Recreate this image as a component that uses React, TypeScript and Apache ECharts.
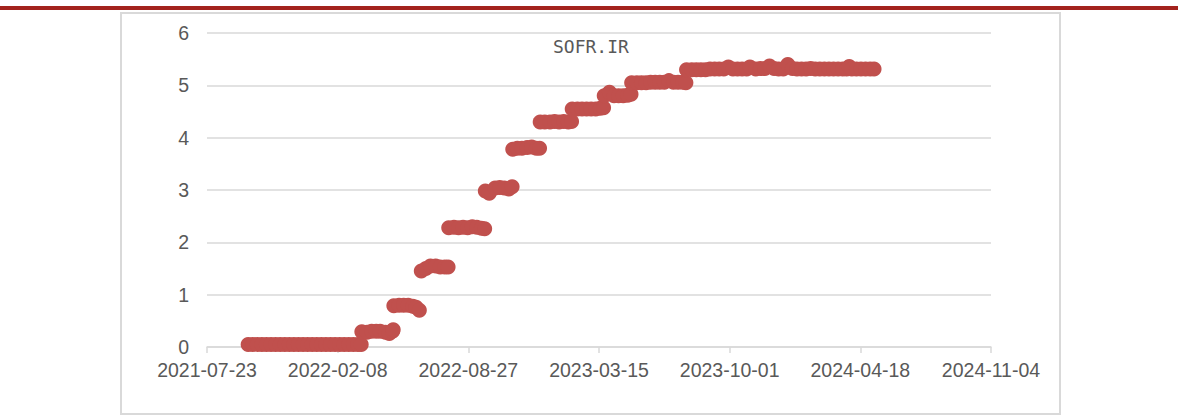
import React, { useEffect, useRef } from "react";
import * as echarts from "echarts";

const BASE_DATE = "2021-07-23";
const X_TICK_DAYS = 200;
const X_MAX_DAYS = 1200;
const Y_TICKS = [0, 1, 2, 3, 4, 5, 6];
const TITLE = "SOFR.IR";

const dates: string[] = [
  "2021-09-24", "2021-10-01", "2021-10-08", "2021-10-15", "2021-10-22", "2021-10-29",
  "2021-11-05", "2021-11-12", "2021-11-19", "2021-11-26", "2021-12-03", "2021-12-10",
  "2021-12-17", "2021-12-24", "2021-12-31", "2022-01-07", "2022-01-14", "2022-01-21",
  "2022-01-28", "2022-02-04", "2022-02-11", "2022-02-18", "2022-02-25", "2022-03-04",
  "2022-03-11", "2022-03-16",
  "2022-03-17", "2022-03-25", "2022-04-01", "2022-04-08", "2022-04-14", "2022-04-22",
  "2022-04-28", "2022-05-03", "2022-05-04",
  "2022-05-05", "2022-05-13", "2022-05-20", "2022-05-27", "2022-06-03", "2022-06-08",
  "2022-06-13",
  "2022-06-16", "2022-06-23", "2022-06-30", "2022-07-08", "2022-07-15", "2022-07-22",
  "2022-07-27",
  "2022-07-28", "2022-08-05", "2022-08-12", "2022-08-19", "2022-08-26", "2022-09-02",
  "2022-09-09", "2022-09-16", "2022-09-21",
  "2022-09-22", "2022-09-28", "2022-10-07", "2022-10-14", "2022-10-21", "2022-10-28",
  "2022-11-02",
  "2022-11-03", "2022-11-10", "2022-11-17", "2022-11-25", "2022-12-02", "2022-12-09",
  "2022-12-14",
  "2022-12-15", "2022-12-22", "2022-12-30", "2023-01-06", "2023-01-13", "2023-01-20",
  "2023-01-27", "2023-02-01",
  "2023-02-02", "2023-02-10", "2023-02-17", "2023-02-24", "2023-03-03", "2023-03-10",
  "2023-03-17", "2023-03-22",
  "2023-03-23", "2023-03-31", "2023-04-07", "2023-04-14", "2023-04-21", "2023-04-28",
  "2023-05-03",
  "2023-05-04", "2023-05-12", "2023-05-19", "2023-05-26", "2023-06-02", "2023-06-09",
  "2023-06-16", "2023-06-23", "2023-06-30", "2023-07-07", "2023-07-14", "2023-07-21",
  "2023-07-26",
  "2023-07-27", "2023-08-04", "2023-08-11", "2023-08-18", "2023-08-25", "2023-09-01",
  "2023-09-08", "2023-09-15", "2023-09-22", "2023-09-29", "2023-10-06", "2023-10-13",
  "2023-10-20", "2023-10-27", "2023-11-01", "2023-11-10", "2023-11-17", "2023-11-24",
  "2023-12-01", "2023-12-08", "2023-12-15", "2023-12-22", "2023-12-29", "2024-01-05",
  "2024-01-12", "2024-01-19", "2024-01-26", "2024-02-02", "2024-02-09", "2024-02-16",
  "2024-02-23", "2024-03-01", "2024-03-08", "2024-03-15", "2024-03-22", "2024-03-28",
  "2024-04-01", "2024-04-05", "2024-04-12", "2024-04-19", "2024-04-26", "2024-05-03",
  "2024-05-09",
];

const sofr: number[] = [
  0.05, 0.05, 0.05, 0.05, 0.05, 0.05,
  0.05, 0.05, 0.05, 0.05, 0.05, 0.05,
  0.05, 0.05, 0.05, 0.05, 0.05, 0.05,
  0.05, 0.05, 0.05, 0.05, 0.05, 0.05,
  0.05, 0.05,
  0.29, 0.28, 0.30, 0.30, 0.30, 0.28,
  0.26, 0.30, 0.33,
  0.79, 0.80, 0.80, 0.80, 0.78, 0.76,
  0.70,
  1.45, 1.50, 1.55, 1.55, 1.53, 1.53,
  1.53,
  2.28, 2.29, 2.28, 2.29, 2.28, 2.30,
  2.29, 2.27, 2.26,
  2.98, 2.94, 3.04, 3.05, 3.04, 3.02,
  3.06,
  3.78, 3.80, 3.80, 3.81, 3.82, 3.80,
  3.80,
  4.30, 4.30, 4.30, 4.31, 4.30, 4.31,
  4.30, 4.31,
  4.55, 4.55, 4.55, 4.55, 4.55, 4.55,
  4.56, 4.57,
  4.80, 4.87, 4.80, 4.80, 4.80, 4.81,
  4.83,
  5.05, 5.05, 5.05, 5.05, 5.06, 5.06,
  5.06, 5.06, 5.09, 5.06, 5.06, 5.06,
  5.05,
  5.30, 5.30, 5.30, 5.30, 5.30, 5.31,
  5.31, 5.31, 5.31, 5.35, 5.31, 5.31,
  5.31, 5.31, 5.35, 5.31, 5.32, 5.32,
  5.37, 5.32, 5.31, 5.31, 5.40, 5.32,
  5.31, 5.31, 5.31, 5.32, 5.31, 5.31,
  5.31, 5.31, 5.31, 5.31, 5.31, 5.31,
  5.36, 5.31, 5.31, 5.31, 5.31, 5.31,
  5.31,
];

const DAY_MS = 86400000;
const baseMs = Date.parse(BASE_DATE + "T00:00:00Z");
const toDays = (s: string) => (Date.parse(s + "T00:00:00Z") - baseMs) / DAY_MS;
const fmtDay = (d: number) =>
  new Date(baseMs + Math.round(d) * DAY_MS).toISOString().slice(0, 10);

export default function App() {
  const ref = useRef<HTMLDivElement>(null);
  useEffect(() => {
    if (!ref.current) return;
    const chart = echarts.init(ref.current, undefined, { renderer: "svg" });
    const points = dates.map((d, i) => [toDays(d), sofr[i]]);
    const labelFont = {
      color: "#595959",
      fontSize: 19.5,
      fontFamily: "Liberation Sans",
    };
    chart.setOption({
      animation: false,
      backgroundColor: "#ffffff",
      grid: { left: 207, right: 187, top: 33, bottom: 70, containLabel: false },
      xAxis: {
        type: "value",
        min: 0,
        max: X_MAX_DAYS,
        interval: X_TICK_DAYS,
        splitLine: { show: false },
        axisLine: { show: true, lineStyle: { color: "#d9d9d9", width: 1.5 } },
        axisTick: { show: true, length: 6, lineStyle: { color: "#d9d9d9", width: 1.5 } },
        axisLabel: {
          ...labelFont,
          margin: 15,
          lineHeight: 16,
          formatter: (v: number) => fmtDay(v),
        },
      },
      yAxis: {
        type: "value",
        min: Y_TICKS[0],
        max: Y_TICKS[Y_TICKS.length - 1],
        interval: 1,
        axisLine: { show: false },
        axisTick: { show: false },
        splitLine: { show: true, lineStyle: { color: "#d9d9d9", width: 1.5 } },
        axisLabel: { ...labelFont, margin: 18, lineHeight: 14 },
      },
      series: [
        {
          type: "scatter",
          name: TITLE,
          data: points,
          symbol: "circle",
          symbolSize: 15,
          itemStyle: { color: "#C0504D", opacity: 1 },
        },
      ],
      graphic: [
        {
          type: "rect",
          left: 0,
          top: 6,
          shape: { width: 1178, height: 4 },
          style: { fill: "#A3231D" },
        },
        {
          type: "rect",
          shape: { x: 121, y: 13, width: 939, height: 401 },
          style: { fill: "none", stroke: "#d9d9d9", lineWidth: 2 },
        },
        {
          type: "text",
          left: 553,
          top: 37,
          style: {
            text: TITLE,
            fill: "#595959",
            fontSize: 18,
            fontFamily: "DejaVu Sans Mono",
          },
        },
      ],
    });
    return () => chart.dispose();
  }, []);
  return (
    <div
      ref={ref}
      style={{ position: "fixed", left: 0, top: 0, width: 1178, height: 417 }}
    />
  );
}
